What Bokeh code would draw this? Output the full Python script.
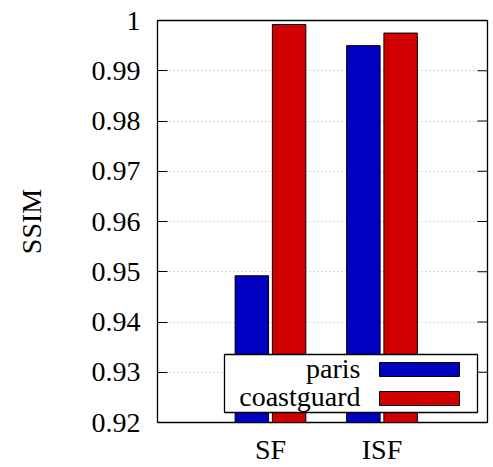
from bokeh.plotting import figure
from bokeh.models import Range1d, FixedTicker, BoxAnnotation, Label, ColumnDataSource
from bokeh.embed import file_html
from bokeh.resources import INLINE

# SSIM per method and test sequence
methods = ["SF", "ISF"]
paris = [0.9492, 0.9950]
coastguard = [0.9992, 0.9975]
y_ticks = [0.92, 0.93, 0.94, 0.95, 0.96, 0.97, 0.98, 0.99, 1.0]
y_tick_labels = ["0.92", "0.93", "0.94", "0.95", "0.96", "0.97", "0.98", "0.99", "1"]

FONT = "Liberation Serif"
FS = "28px"
BLUE = "#0000c0"
RED = "#d00000"

W, H = 493, 467
BORDER_L, BORDER_R, BORDER_T, BORDER_B = 157, 6, 20, 44
X_START, X_END = -1.013, 1.946
Y_START, Y_END = 0.92, 1.0
TICK_LEN = 10  # px

xpos = list(range(len(methods)))
src = ColumnDataSource(dict(
    x_p=[x - 0.167 for x in xpos],
    x_c=[x + 0.167 for x in xpos],
    paris=paris,
    coastguard=coastguard,
))

p = figure(width=W, height=H, output_backend="svg", toolbar_location=None,
           x_range=Range1d(X_START, X_END), y_range=Range1d(Y_START, Y_END),
           min_border_left=BORDER_L, min_border_right=BORDER_R,
           min_border_top=BORDER_T, min_border_bottom=BORDER_B)

p.outline_line_color = "black"
p.outline_line_width = 1.3
p.background_fill_color = "white"
p.border_fill_color = "white"

p.vbar(x="x_p", top="paris", bottom=Y_START, width=0.30, source=src,
       fill_color=BLUE, line_color="black", line_width=1)
p.vbar(x="x_c", top="coastguard", bottom=Y_START, width=0.30, source=src,
       fill_color=RED, line_color="black", line_width=1)

# y axis (left) with inward ticks
yax = p.yaxis[0]
yax.ticker = FixedTicker(ticks=y_ticks)
yax.major_label_overrides = {t: s for t, s in zip(y_ticks, y_tick_labels)}
yax.major_tick_in = TICK_LEN
yax.major_tick_out = 0
yax.major_tick_line_color = "black"
yax.minor_tick_line_color = None
yax.axis_line_color = None
yax.major_label_standoff = 17
yax.major_label_text_font = FONT
yax.major_label_text_font_size = FS
yax.major_label_text_color = "black"
yax.axis_label = "SSIM"
yax.axis_label_text_font = FONT
yax.axis_label_text_font_style = "normal"
yax.axis_label_text_font_size = FS
yax.axis_label_text_color = "black"
yax.axis_label_standoff = 42

# mirrored ticks on the right edge of the frame
frame_w = W - BORDER_L - BORDER_R
tick_dx = TICK_LEN * (X_END - X_START) / frame_w
p.segment(x0=[X_END] * len(y_ticks), x1=[X_END - tick_dx] * len(y_ticks),
          y0=y_ticks, y1=y_ticks, line_color="black", line_width=1)

# x axis: category names only
xax = p.xaxis[0]
xax.ticker = FixedTicker(ticks=xpos)
xax.major_label_overrides = {x: m for x, m in zip(xpos, methods)}
xax.major_tick_line_color = None
xax.major_tick_in = 0
xax.major_tick_out = 0
xax.minor_tick_line_color = None
xax.minor_tick_in = 0
xax.minor_tick_out = 0
xax.axis_line_color = None
xax.major_label_standoff = 11
xax.major_label_text_font = FONT
xax.major_label_text_font_size = FS
xax.major_label_text_color = "black"

p.xgrid.grid_line_color = None
p.ygrid.ticker = FixedTicker(ticks=y_ticks[1:-1])
p.ygrid.grid_line_color = "#b0b0b0"
p.ygrid.grid_line_dash = "1 3"
p.ygrid.grid_line_width = 1

# key box (screen units from the frame's bottom-left corner)
p.add_layout(BoxAnnotation(left=67, right=320, bottom=10, top=68,
                           left_units="screen", right_units="screen",
                           bottom_units="screen", top_units="screen",
                           fill_color="white", fill_alpha=1.0,
                           line_color="black", line_width=1.3, line_alpha=1.0))
for (lbl, col, yb, yt, ymid) in [("paris", BLUE, 46, 60, 54),
                                 ("coastguard", RED, 17, 31, 26)]:
    p.add_layout(BoxAnnotation(left=222, right=302, bottom=yb, top=yt,
                               left_units="screen", right_units="screen",
                               bottom_units="screen", top_units="screen",
                               fill_color=col, fill_alpha=1.0,
                               line_color="black", line_width=1, line_alpha=1.0))
    p.add_layout(Label(x=203, y=ymid, x_units="screen", y_units="screen", text=lbl,
                       text_align="right", text_baseline="middle",
                       text_font=FONT, text_font_size=FS, text_color="black"))

open("out.html", "w").write(file_html(p, INLINE))
